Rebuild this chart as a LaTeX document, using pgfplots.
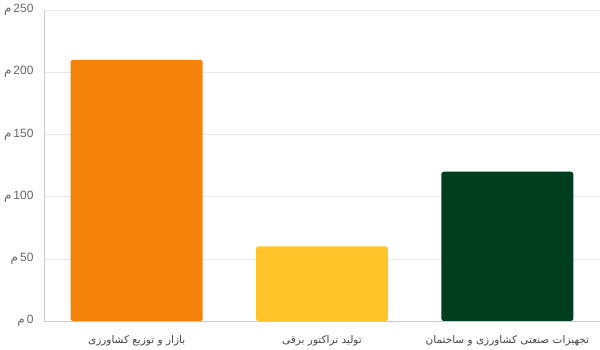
\documentclass[border=0pt]{standalone}
\usepackage{pgfplots}
\pgfplotsset{compat=1.18}
\usepackage{fontspec}
\setmainfont{Liberation Sans}
\newfontfamily\arabicfont[Script=Arabic]{DejaVu Sans}
\TeXXeTstate=1
\definecolor{cOrange}{HTML}{F5820A}
\definecolor{cYellow}{HTML}{FFC42A}
\definecolor{cGreen}{HTML}{003D1F}
\definecolor{gridc}{HTML}{E8E8E8}
\definecolor{axisc}{HTML}{CCCCCC}
\definecolor{tickc}{HTML}{666666}
\definecolor{labc}{HTML}{444444}
\begin{document}
\begin{tikzpicture}
\useasboundingbox (0,0) rectangle (600bp,350bp);
\begin{axis}[
  at={(44bp,29bp)}, anchor=south west,
  scale only axis, width=556bp, height=311bp,
  xmin=-0.5, xmax=2.5, ymin=0, ymax=250,
  ytick={0,50,100,150,200,250},
  xtick={0,1,2},
  xticklabels={{\arabicfont\beginR بازار و توزیع کشاورزی\endR},{\arabicfont\beginR تولید تراکتور برقی\endR},{\arabicfont\beginR تجهیزات صنعتی کشاورزی و ساختمان\endR}},
  /pgf/number format/assume math mode=true,
  yticklabel={{\arabicfont م}\,\pgfmathprintnumber{\tick}},
  yticklabel style={font=\fontsize{12bp}{14bp}\selectfont, text=tickc, xshift=-7bp},
  xticklabel style={font=\fontsize{10.5bp}{13bp}\selectfont, text=labc, yshift=-11bp},
  major tick length=0pt,
  axis x line*=bottom, axis y line*=left,
  axis line style={axisc, line width=0.8pt},
  ymajorgrids, grid style={gridc, line width=0.6pt},
  ybar, bar width=132bp, bar shift=0pt,
  every axis plot/.append style={draw=none},
]
\addplot[fill=cOrange, rounded corners=2.5bp] coordinates {(0,210)};
\addplot[fill=cYellow, rounded corners=2.5bp] coordinates {(1,60)};
\addplot[fill=cGreen, rounded corners=2.5bp] coordinates {(2,120)};
\end{axis}
\end{tikzpicture}
\end{document}
